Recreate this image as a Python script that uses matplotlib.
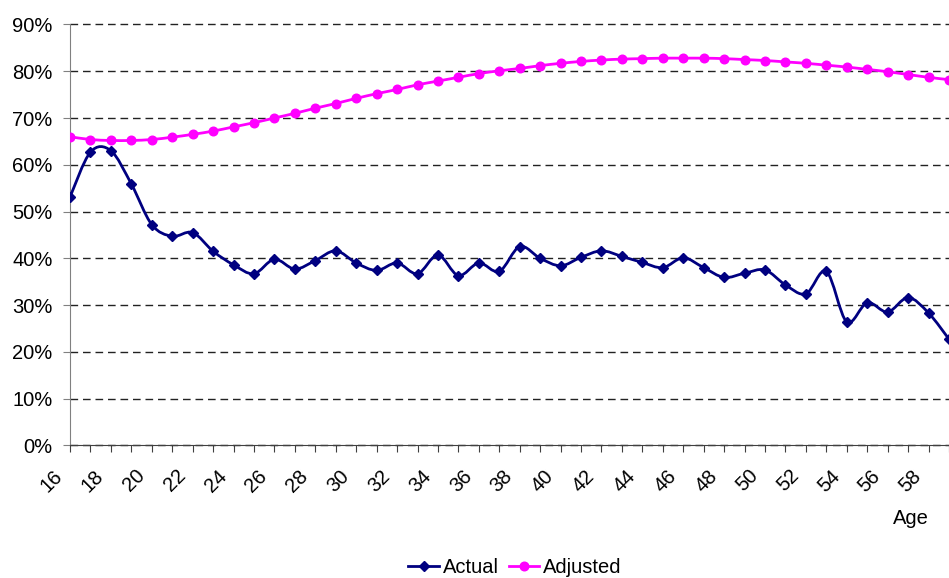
import matplotlib
matplotlib.use("Agg")
import matplotlib.pyplot as plt
from matplotlib.path import Path
from matplotlib.patches import PathPatch
from matplotlib.lines import Line2D
from matplotlib.ticker import PercentFormatter, MultipleLocator
from matplotlib.transforms import ScaledTranslation

plt.rcParams["font.family"] = ["Liberation Sans", "DejaVu Sans"]

# ── data (percent) ──────────────────────────────────────────────────────
ages = list(range(16, 60))
actual = [53.1, 62.7, 63.0, 55.9, 47.2, 44.7, 45.5, 41.5, 38.6, 36.7,
          39.8, 37.7, 39.5, 41.6, 39.0, 37.4, 39.0, 36.7, 40.7, 36.3,
          39.0, 37.2, 42.5, 40.0, 38.4, 40.2, 41.6, 40.4, 39.1, 38.0,
          40.1, 38.0, 35.9, 36.8, 37.5, 34.3, 32.4, 37.2, 26.4, 30.5,
          28.5, 31.6, 28.3, 22.7]
adjusted = [66.0, 65.4, 65.2, 65.2, 65.4, 65.9, 66.5, 67.2, 68.1, 69.0,
            70.0, 71.0, 72.1, 73.1, 74.2, 75.2, 76.1, 77.1, 77.9, 78.7,
            79.5, 80.1, 80.6, 81.2, 81.7, 82.1, 82.4, 82.6, 82.7, 82.8,
            82.8, 82.8, 82.7, 82.5, 82.3, 82.0, 81.7, 81.3, 80.9, 80.4,
            79.9, 79.3, 78.7, 78.2]
series_names = ["Actual", "Adjusted"]
x_labels = [str(a) if a % 2 == 0 else "" for a in ages]

NAVY = "#000080"
MAGENTA = "#FF00FF"


def smooth_path(xs, ys):
    """Excel-style smoothed line as cubic Bezier segments through the points."""
    pts = list(zip(xs, ys))
    verts = [pts[0]]
    codes = [Path.MOVETO]
    n = len(pts)
    for i in range(n - 1):
        p0 = pts[i - 1] if i > 0 else pts[i]
        p1 = pts[i]
        p2 = pts[i + 1]
        p3 = pts[i + 2] if i + 2 < n else pts[i + 1]
        c1 = (p1[0] + (p2[0] - p0[0]) / 6, p1[1] + (p2[1] - p0[1]) / 6)
        c2 = (p2[0] - (p3[0] - p1[0]) / 6, p2[1] - (p3[1] - p1[1]) / 6)
        verts += [c1, c2, p2]
        codes += [Path.CURVE4] * 3
    return Path(verts, codes)


fig = plt.figure(figsize=(9.49, 5.78), dpi=100)
ax = fig.add_axes([70 / 949, 1 - 445.3 / 578, 1 - 70 / 949, (445.3 - 24.5) / 578])

for ys, color, marker, ms in [(actual, NAVY, "D", 5.5), (adjusted, MAGENTA, "o", 6.2)]:
    ax.add_patch(PathPatch(smooth_path(ages, ys), facecolor="none",
                           edgecolor=color, lw=2.0, zorder=3))
    ax.plot(ages, ys, ls="none", marker=marker, ms=ms, color=color, zorder=4)

ax.set_xlim(16, 59)
ax.set_ylim(0, 90)
ax.yaxis.set_major_locator(MultipleLocator(10))
ax.yaxis.set_major_formatter(PercentFormatter(100, decimals=0))
ax.set_xticks(ages)

ax.grid(axis="y", color="#222222", lw=1.0, linestyle=(0, (5.5, 3.5)))
for gl in ax.yaxis.get_gridlines():
    gl.set_clip_on(False)
ax.set_axisbelow(True)
for s in ("top", "right"):
    ax.spines[s].set_visible(False)
ax.spines["left"].set_color("#808080")
ax.spines["bottom"].set_color("#404040")
ax.tick_params(axis="y", length=5, color="#808080", labelsize=14.5, pad=7.5)
ax.tick_params(axis="x", length=5, color="#404040", labelsize=14.5, pad=20.5)

ax.set_xticklabels(x_labels, rotation=45, ha="center", va="center",
                   rotation_mode="anchor")
# rotated labels sit down and to the left of their tick, as in Excel
shift = ScaledTranslation(-18 / 100, 0, fig.dpi_scale_trans)
for tick in ax.xaxis.get_major_ticks():
    tick.label1.set_transform(tick.label1.get_transform() + shift)

fig.text(911 / 949, 1 - 519 / 578, "Age", ha="center", va="center", fontsize=14.5)

handles = [Line2D([], [], color=NAVY, marker="D", ms=5.5, lw=2.0),
           Line2D([], [], color=MAGENTA, marker="o", ms=6.2, lw=2.0)]
fig.legend(handles, series_names, loc="lower center",
           bbox_to_anchor=(515 / 949, -0.03), ncol=2, frameon=False,
           fontsize=14.5, handlelength=1.5, handletextpad=0.2,
           columnspacing=0.5, numpoints=1)

fig.savefig("out.png", dpi=100)
